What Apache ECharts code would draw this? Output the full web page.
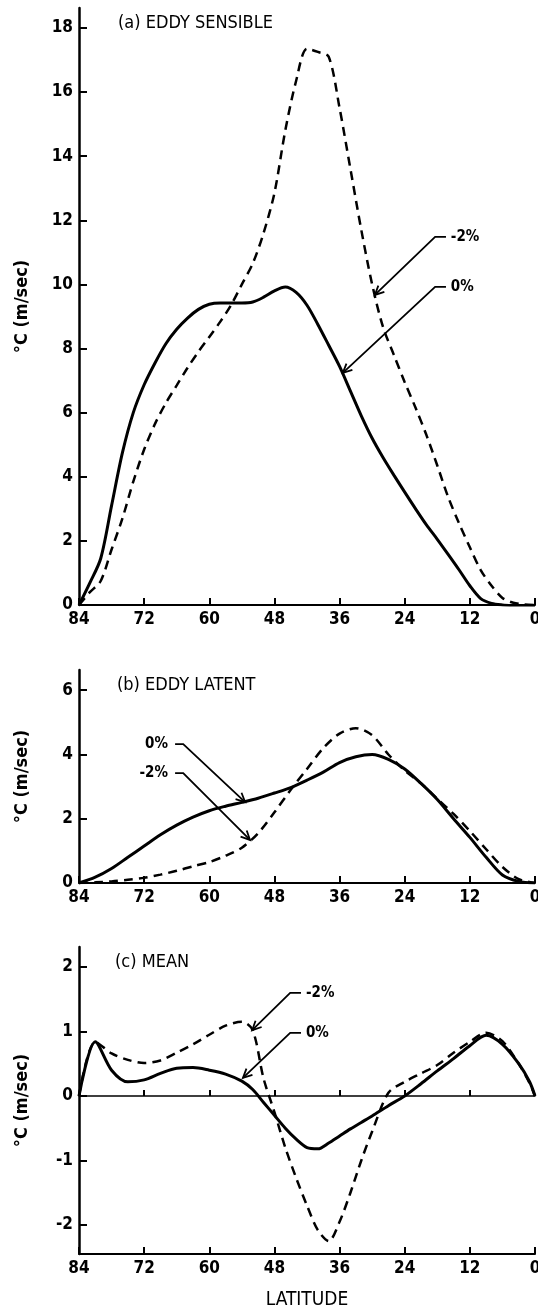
<!DOCTYPE html>
<html>
<head>
<meta charset="utf-8">
<script src="https://cdn.jsdelivr.net/npm/echarts@6/dist/echarts.min.js"></script>
<style>
  html, body { margin: 0; padding: 0; background: #fff; }
  #main { width: 538px; height: 1306px; }
</style>
</head>
<body>
<div id="main"></div>
<script>
// (a) eddy sensible
var latA = [84, 82, 80, 78, 76, 74, 72, 70, 68, 66, 64, 62, 60, 58, 56, 54, 52, 50, 48, 46, 44, 42,
  40, 38, 36, 34, 32, 30, 28, 26, 24, 22, 20, 18, 16, 14, 12, 10, 8, 6, 4, 2, 0]
var sensible0 = [0, 0.69, 1.45, 3.1, 4.75, 6.0, 6.87, 7.55, 8.15, 8.6, 8.95, 9.22, 9.38, 9.42, 9.42, 9.42, 9.45, 9.6, 9.8, 9.92, 9.75, 9.35,
  8.75, 8.1, 7.44, 6.67, 5.9, 5.2, 4.6, 4.05, 3.52, 3.0, 2.5, 2.05, 1.58, 1.1, 0.6, 0.2, 0.05, 0, -0.02, -0.03, -0.03]
var sensibleM2 = [0, 0.4, 0.75, 1.73, 2.7, 3.85, 4.85, 5.65, 6.3, 6.85, 7.4, 7.9, 8.36, 8.83, 9.35, 10.0, 10.65, 11.6, 12.85, 14.8, 16.35, 17.35,
  17.25, 17.1, 15.5, 13.6, 11.7, 10.0, 8.67, 7.8, 6.95, 6.15, 5.3, 4.35, 3.37, 2.55, 1.8, 1.09, 0.6, 0.22, 0.07, 0.02, 0]

// (b) eddy latent
var latB = [84, 81, 78, 75, 72, 69, 66, 63, 60, 57, 54, 51, 48, 45, 42, 39, 36, 33, 30, 27, 24, 21, 18, 15, 12, 9, 6, 3, 0]
var latent0 = [0, 0.18, 0.45, 0.8, 1.15, 1.5, 1.8, 2.05, 2.25, 2.39, 2.51, 2.64, 2.8, 2.97, 3.2, 3.45, 3.75, 3.93, 4.0, 3.85,
  3.55, 3.1, 2.6, 2.0, 1.42, 0.8, 0.25, 0.05, 0]
var latentM2 = [0, 0.02, 0.05, 0.1, 0.16, 0.26, 0.38, 0.52, 0.65, 0.85, 1.1, 1.55, 2.2, 2.9, 3.55, 4.2, 4.65, 4.82, 4.6, 4.0,
  3.5, 3.1, 2.62, 2.15, 1.62, 1.05, 0.5, 0.12, 0]

// (c) mean
var latC = [84, 81, 78, 75, 72, 69, 66, 63, 60, 57, 54, 52, 50, 48, 46, 44, 42, 40, 38, 36, 34, 32, 30, 27, 24, 21, 18, 15, 12, 9, 6, 3, 1, 0]
var mean0 = [0, 0.84, 0.40, 0.22, 0.25, 0.35, 0.43, 0.44, 0.40, 0.34, 0.23, 0.1, -0.1, -0.3, -0.5, -0.67, -0.8, -0.82,
  -0.73, -0.62, -0.51, -0.41, -0.31, -0.15, 0.0, 0.19, 0.39, 0.58, 0.78, 0.94, 0.8, 0.5, 0.22, 0]
var meanM2 = [0, 0.84, 0.66, 0.56, 0.51, 0.55, 0.67, 0.8, 0.95, 1.09, 1.15, 1.02, 0.27, -0.25, -0.8, -1.27, -1.7, -2.08,
  -2.25, -1.95, -1.5, -1.0, -0.55, 0.05, 0.22, 0.35, 0.48, 0.67, 0.84, 0.98, 0.85, 0.5, 0.2, 0]

// tick labels
var latTicks = [84, 72, 60, 48, 36, 24, 12, 0]
var ticksA = [0, 2, 4, 6, 8, 10, 12, 14, 16, 18]
var ticksB = [0, 2, 4, 6]
var ticksC = [-2, -1, 0, 1, 2]

var FONT = "'Liberation Sans Narrow', 'DejaVu Sans Condensed', 'Liberation Sans', sans-serif"

function pairs(lats, vals) {
  return lats.map(function (l, i) { return [l, vals[i]] })
}

var myChart = echarts.init(document.getElementById('main'))

function xAxisFor(grid, extra) {
  var ax = {
    type: 'value',
    gridIndex: grid,
    min: 0,
    max: 84,
    interval: 12,
    inverse: true,
    splitLine: { show: false },
    axisLine: { onZero: false, lineStyle: { color: '#000', width: 2 } },
    axisTick: { inside: true, length: 7, customValues: latTicks, lineStyle: { color: '#000', width: 2 } },
    axisLabel: { customValues: latTicks, color: '#000', fontFamily: FONT, fontSize: 17, fontWeight: 'bold', margin: 6 }
  }
  return Object.assign(ax, extra || {})
}

function yAxisFor(grid, min, max, ticks) {
  return {
    type: 'value',
    gridIndex: grid,
    min: min,
    max: max,
    name: '°C (m/sec)',
    nameLocation: 'middle',
    nameGap: 48,
    nameTextStyle: { color: '#000', fontFamily: FONT, fontSize: 18, fontWeight: 'bold' },
    splitLine: { show: false },
    axisLine: { onZero: false, lineStyle: { color: '#000', width: 2.5 } },
    axisTick: { inside: true, length: 8, customValues: ticks, lineStyle: { color: '#000', width: 2 } },
    axisLabel: { customValues: ticks, color: '#000', fontFamily: FONT, fontSize: 17, fontWeight: 'bold', margin: 6 }
  }
}

function solid(grid, data) {
  return {
    type: 'line', xAxisIndex: grid, yAxisIndex: grid, data: data,
    showSymbol: false, smooth: 0.3, silent: true,
    lineStyle: { color: '#000', width: 3 }
  }
}
function dashed(grid, data) {
  return {
    type: 'line', xAxisIndex: grid, yAxisIndex: grid, data: data,
    showSymbol: false, smooth: 0.3, silent: true,
    lineStyle: { color: '#000', width: 2.5, type: [9, 6] }
  }
}

var titleStyle = { color: '#000', fontFamily: FONT, fontSize: 18, fontWeight: 'normal' }

var option = {
  animation: false,
  backgroundColor: '#fff',
  title: [
    { text: '(a) EDDY SENSIBLE', left: 118, top: 14, padding: 0, textStyle: titleStyle },
    { text: '(b) EDDY LATENT', left: 117, top: 676, padding: 0, textStyle: titleStyle },
    { text: '(c) MEAN', left: 115, top: 953, padding: 0, textStyle: titleStyle }
  ],
  grid: [
    { left: 79, right: 3, top: 8, height: 597, outerBoundsMode: 'none' },
    { left: 79, right: 3, top: 670, height: 213, outerBoundsMode: 'none' },
    { left: 79, right: 3, top: 947, height: 307, outerBoundsMode: 'none' }
  ],
  xAxis: [
    xAxisFor(0),
    xAxisFor(1),
    xAxisFor(2, {
      name: 'LATITUDE',
      nameLocation: 'middle',
      nameGap: 37,
      nameTextStyle: { color: '#000', fontFamily: FONT, fontSize: 19 }
    }),
    // zero line of panel (c)
    xAxisFor(2, {
      position: 'bottom',
      axisLine: { onZero: true, lineStyle: { color: '#000', width: 1.5 } },
      axisTick: { show: true, inside: true, length: 6, customValues: [72, 60, 48, 36, 24, 12], lineStyle: { color: '#000', width: 2 } },
      axisLabel: { show: false }
    })
  ],
  yAxis: [
    yAxisFor(0, 0, 18.62, ticksA),
    yAxisFor(1, 0, 6.63, ticksB),
    yAxisFor(2, -2.45, 2.31, ticksC)
  ],
  series: [
    solid(0, pairs(latA, sensible0)),
    dashed(0, pairs(latA, sensibleM2)),
    solid(1, pairs(latB, latent0)),
    dashed(1, pairs(latB, latentM2)),
    solid(2, pairs(latC, mean0)),
    dashed(2, pairs(latC, meanM2))
  ]
}

myChart.setOption(option)

// labels with leader arrows (anchor points in lat / value units)
var notes = [
  { grid: 0, text: '-2%', at: [15.5, 11.48], align: 'left', line: [[16.4, 11.48], [18.4, 11.48], [29.5, 9.67]] },
  { grid: 0, text: '0%', at: [15.5, 9.92], align: 'left', line: [[16.4, 9.92], [18.4, 9.92], [35.4, 7.24]] },
  { grid: 1, text: '0%', at: [67.6, 4.32], align: 'right', line: [[66.3, 4.32], [64.8, 4.32], [53.4, 2.52]] },
  { grid: 1, text: '-2%', at: [67.6, 3.42], align: 'right', line: [[66.3, 3.42], [64.8, 3.42], [52.5, 1.34]] },
  { grid: 2, text: '-2%', at: [42.2, 1.6], align: 'left', line: [[43.1, 1.6], [45.1, 1.6], [52.1, 1.02]] },
  { grid: 2, text: '0%', at: [42.2, 0.98], align: 'left', line: [[43.1, 0.98], [45.1, 0.98], [53.8, 0.28]] }
]

var graphics = []
notes.forEach(function (n) {
  var px = n.line.map(function (p) {
    return myChart.convertToPixel({ gridIndex: n.grid }, p)
  })
  graphics.push({
    type: 'polyline',
    shape: { points: px },
    style: { stroke: '#000', lineWidth: 1.8, fill: null }
  })
  // arrow head
  var tip = px[px.length - 1]
  var from = px[px.length - 2]
  var dx = tip[0] - from[0], dy = tip[1] - from[1]
  var len = Math.sqrt(dx * dx + dy * dy)
  dx /= len; dy /= len
  var a = 0.45, h = 10
  var p1 = [tip[0] - h * (dx * Math.cos(a) - dy * Math.sin(a)), tip[1] - h * (dx * Math.sin(a) + dy * Math.cos(a))]
  var p2 = [tip[0] - h * (dx * Math.cos(a) + dy * Math.sin(a)), tip[1] - h * (-dx * Math.sin(a) + dy * Math.cos(a))]
  graphics.push({
    type: 'polyline',
    shape: { points: [p1, tip, p2] },
    style: { stroke: '#000', lineWidth: 1.8, fill: null }
  })
  var tp = myChart.convertToPixel({ gridIndex: n.grid }, n.at)
  graphics.push({
    type: 'text',
    x: tp[0],
    y: tp[1],
    style: {
      text: n.text,
      fill: '#000',
      font: 'bold 15px ' + FONT,
      align: n.align,
      verticalAlign: 'middle'
    }
  })
})

myChart.setOption({ graphic: graphics })
</script>
</body>
</html>
